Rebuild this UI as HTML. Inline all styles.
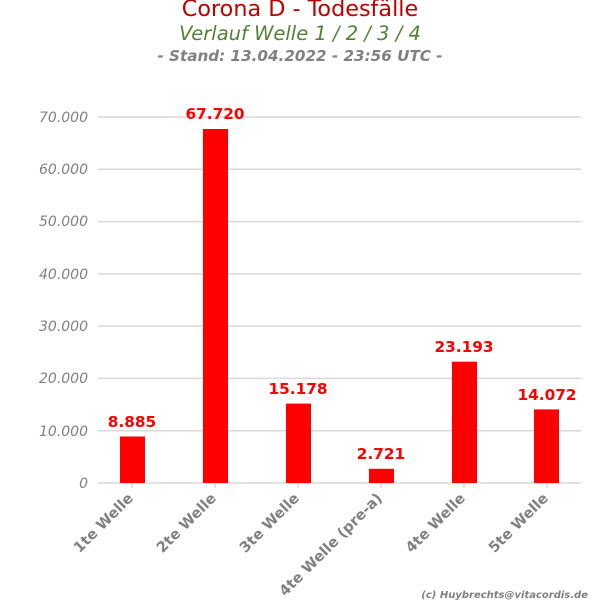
<!DOCTYPE html>
<html><head><style>body{margin:0;background:#fff}svg{display:block}</style></head><body>
<svg width="600" height="600" xmlns="http://www.w3.org/2000/svg" font-family="DejaVu Sans, Liberation Sans, sans-serif">
<text x="300" y="16" text-anchor="middle" font-size="22.3" fill="#c00000">Corona D - Todesfälle</text>
<text x="300" y="40" text-anchor="middle" font-size="19.5" font-style="italic" fill="#538135">Verlauf Welle 1 / 2 / 3 / 4</text>
<text x="300" y="61" text-anchor="middle" font-size="15.2" font-style="italic" font-weight="bold" fill="#808080">- Stand: 13.04.2022 - 23:56 UTC -</text>
<g stroke="#d9d9d9" stroke-width="1.5">
<line x1="98" x2="581" y1="117" y2="117"/><line x1="98" x2="581" y1="169.3" y2="169.3"/><line x1="98" x2="581" y1="221.6" y2="221.6"/><line x1="98" x2="581" y1="273.9" y2="273.9"/><line x1="98" x2="581" y1="326.1" y2="326.1"/><line x1="98" x2="581" y1="378.4" y2="378.4"/><line x1="98" x2="581" y1="430.7" y2="430.7"/><line x1="98" x2="581" y1="483" y2="483"/>
<line x1="132" x2="132" y1="483" y2="488"/><line x1="215" x2="215" y1="483" y2="488"/><line x1="298" x2="298" y1="483" y2="488"/><line x1="381" x2="381" y1="483" y2="488"/><line x1="464" x2="464" y1="483" y2="488"/><line x1="547" x2="547" y1="483" y2="488"/>
</g>
<g font-size="14" font-style="italic" fill="#808080" text-anchor="end">
<text x="88" y="122">70.000</text><text x="88" y="174">60.000</text><text x="88" y="226">50.000</text><text x="88" y="279">40.000</text><text x="88" y="331">30.000</text><text x="88" y="383">20.000</text><text x="88" y="436">10.000</text><text x="88" y="488">0</text>
</g>
<g fill="#ff0000">
<rect x="120" y="436.5" width="25" height="46.5"/>
<rect x="203" y="129" width="25" height="354"/>
<rect x="286" y="403.6" width="25" height="79.4"/>
<rect x="369" y="468.8" width="25" height="14.2"/>
<rect x="452" y="361.7" width="25" height="121.3"/>
<rect x="534" y="409.4" width="25" height="73.6"/>
</g>
<g font-size="15.3" font-weight="bold" fill="#ff0000" text-anchor="middle">
<text x="132" y="427">8.885</text><text x="215" y="119">67.720</text><text x="298" y="394">15.178</text><text x="381" y="459">2.721</text><text x="464" y="352">23.193</text><text x="547" y="400">14.072</text>
</g>
<g font-size="14.5" font-weight="bold" fill="#808080" text-anchor="end">
<text transform="translate(134,499) rotate(-45)">1te Welle</text>
<text transform="translate(217,499) rotate(-45)">2te Welle</text>
<text transform="translate(300,499) rotate(-45)">3te Welle</text>
<text transform="translate(383,499) rotate(-45)">4te Welle (pre-a)</text>
<text transform="translate(466,499) rotate(-45)">4te Welle</text>
<text transform="translate(549,499) rotate(-45)">5te Welle</text>
</g>
<text x="588" y="598" text-anchor="end" font-size="10" font-style="italic" font-weight="bold" fill="#808080">(c) Huybrechts@vitacordis.de</text>
</svg>
</body></html>
